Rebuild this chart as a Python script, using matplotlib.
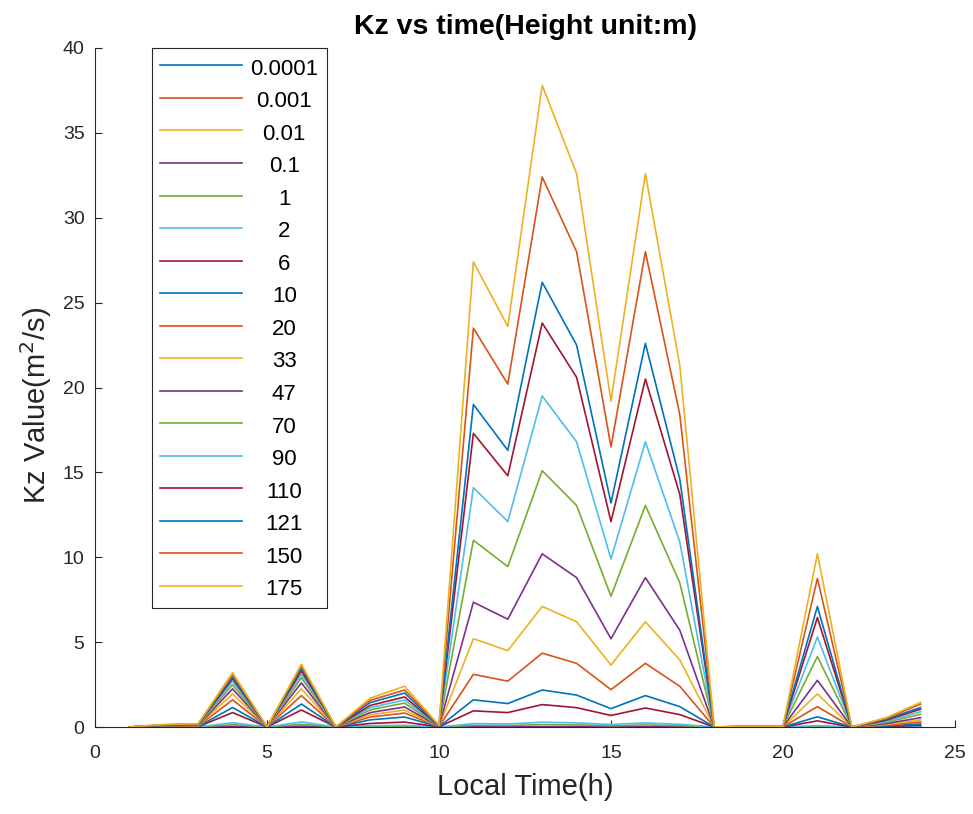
import numpy as np
import matplotlib
matplotlib.use("Agg")
import matplotlib.pyplot as plt
from matplotlib.transforms import Affine2D

plt.rcParams['font.family'] = ['Liberation Sans', 'DejaVu Sans']

hours = list(range(1, 25))
heights = ['0.0001', '0.001', '0.01', '0.1', '1', '2', '6', '10', '20', '33',
           '47', '70', '90', '110', '121', '150', '175']

# Kz values per height, hours 1..24
kz_0_0001 = [0] * 24
kz_0_001 = [0] * 24
kz_0_01 = [0, 0, 0, 0.01, 0, 0.01, 0, 0, 0, 0, 0, 0, 0, 0, 0, 0, 0, 0, 0, 0, 0, 0, 0, 0]
kz_0_1 = [0, 0, 0, 0.04, 0, 0.05, 0, 0.01, 0.01, 0, 0.01, 0.01, 0.02, 0.02, 0.01, 0.02, 0.01, 0, 0, 0, 0, 0, 0, 0]
kz_1 = [0, 0, 0, 0.14, 0, 0.16, 0, 0.04, 0.05, 0, 0.1, 0.09, 0.14, 0.12, 0.07, 0.12, 0.08, 0, 0, 0, 0.04, 0, 0, 0.02]
kz_2 = [0, 0, 0.01, 0.25, 0, 0.3, 0, 0.08, 0.1, 0, 0.2, 0.18, 0.28, 0.24, 0.15, 0.24, 0.16, 0, 0, 0, 0.08, 0, 0.01, 0.03]
kz_6 = [0, 0.01, 0.02, 0.85, 0, 1.0, 0, 0.21, 0.29, 0.01, 0.95, 0.85, 1.32, 1.14, 0.68, 1.12, 0.73, 0, 0, 0, 0.36, 0, 0.03, 0.1]
kz_10 = [0, 0.02, 0.03, 1.15, 0, 1.35, 0, 0.42, 0.59, 0.01, 1.6, 1.38, 2.18, 1.88, 1.08, 1.85, 1.2, 0, 0, 0, 0.6, 0, 0.05, 0.18]
kz_20 = [0, 0.04, 0.05, 1.6, 0, 1.85, 0, 0.59, 0.82, 0.02, 3.1, 2.7, 4.35, 3.75, 2.2, 3.75, 2.4, 0, 0.01, 0.01, 1.2, 0, 0.1, 0.3]
kz_33 = [0, 0.05, 0.07, 1.95, 0, 2.25, 0, 0.72, 1.0, 0.03, 5.2, 4.5, 7.1, 6.2, 3.65, 6.2, 3.95, 0, 0.01, 0.01, 1.95, 0, 0.15, 0.42]
kz_47 = [0, 0.07, 0.09, 2.25, 0, 2.6, 0, 0.85, 1.18, 0.04, 7.35, 6.35, 10.2, 8.8, 5.2, 8.8, 5.7, 0, 0.02, 0.02, 2.75, 0, 0.2, 0.55]
kz_70 = [0, 0.08, 0.11, 2.5, 0, 2.9, 0, 1.01, 1.41, 0.05, 11.0, 9.45, 15.1, 13.05, 7.7, 13.05, 8.5, 0, 0.02, 0.02, 4.15, 0, 0.27, 0.75]
kz_90 = [0, 0.1, 0.13, 2.7, 0, 3.1, 0, 1.14, 1.59, 0.06, 14.1, 12.1, 19.5, 16.8, 9.9, 16.8, 10.9, 0, 0.03, 0.03, 5.3, 0, 0.33, 0.9]
kz_110 = [0, 0.11, 0.15, 2.85, 0, 3.3, 0, 1.27, 1.77, 0.07, 17.3, 14.8, 23.8, 20.6, 12.1, 20.5, 13.7, 0, 0.03, 0.03, 6.45, 0, 0.4, 1.05]
kz_121 = [0, 0.12, 0.16, 2.95, 0, 3.45, 0, 1.44, 2.0, 0.08, 19.0, 16.3, 26.2, 22.5, 13.2, 22.6, 14.6, 0, 0.04, 0.04, 7.1, 0, 0.45, 1.15]
kz_150 = [0, 0.13, 0.18, 3.1, 0, 3.6, 0, 1.57, 2.18, 0.09, 23.5, 20.2, 32.4, 28.0, 16.5, 28.0, 18.4, 0, 0.04, 0.04, 8.75, 0, 0.5, 1.35]
kz_175 = [0, 0.15, 0.2, 3.2, 0, 3.7, 0, 1.7, 2.4, 0.1, 27.4, 23.6, 37.8, 32.6, 19.2, 32.6, 21.3, 0, 0.05, 0.05, 10.2, 0, 0.55, 1.45]

series = [kz_0_0001, kz_0_001, kz_0_01, kz_0_1, kz_1, kz_2, kz_6, kz_10, kz_20, kz_33,
          kz_47, kz_70, kz_90, kz_110, kz_121, kz_150, kz_175]

# matlab default color order
colors = ['#0072BD', '#D95319', '#EDB120', '#7E2F8E', '#77AC30', '#4DBEEE', '#A2142F']
axcol = '#262626'

fig = plt.figure(figsize=(9.73, 8.14), dpi=100)
ax = fig.add_axes([95 / 973, 1 - 727 / 814, 860 / 973, 679 / 814])

for i, (h, vals) in enumerate(zip(heights, series)):
    ax.plot(hours, vals, color=colors[i % 7], lw=1.2, label=h)

ax.set_xlim(0, 25)
ax.set_ylim(0, 40)
ax.set_xticks(range(0, 26, 5))
ax.set_yticks(range(0, 41, 5))
ax.tick_params(direction='in', length=5, width=0.8, colors=axcol, labelsize=14)
ax.tick_params(axis='x', pad=13)
ax.tick_params(axis='y', pad=7.5)
for s in ['top', 'right']:
    ax.spines[s].set_visible(False)
for s in ['left', 'bottom']:
    ax.spines[s].set_color(axcol)
    ax.spines[s].set_linewidth(0.8)

ax.set_title('Kz vs time(Height unit:m)', fontsize=20.5, fontweight='bold', pad=10)
ax.set_xlabel('Local Time(h)', fontsize=21, color=axcol, labelpad=8)
ax.set_ylabel('Kz Value(m$^2$/s)', fontsize=21, color=axcol)
ax.yaxis.set_label_coords(-0.048, 0.474)

leg = ax.legend(loc='upper left', bbox_to_anchor=(57 / 860, 1.0), borderaxespad=0,
                fontsize=16, handlelength=3.7, handleheight=1.13, handletextpad=0.35,
                labelspacing=0.41, borderpad=0.37, fancybox=False, framealpha=1,
                edgecolor=axcol)
leg.get_frame().set_linewidth(0.8)

# center legend labels like matlab
fig.canvas.draw()
r = fig.canvas.get_renderer()
widths = [t.get_window_extent(r).width for t in leg.get_texts()]
wmax = max(widths)
for t, w in zip(leg.get_texts(), widths):
    t.set_transform(t.get_transform() + Affine2D().translate((wmax - w) / 2, 0))

fig.savefig('out.png', dpi=100)
